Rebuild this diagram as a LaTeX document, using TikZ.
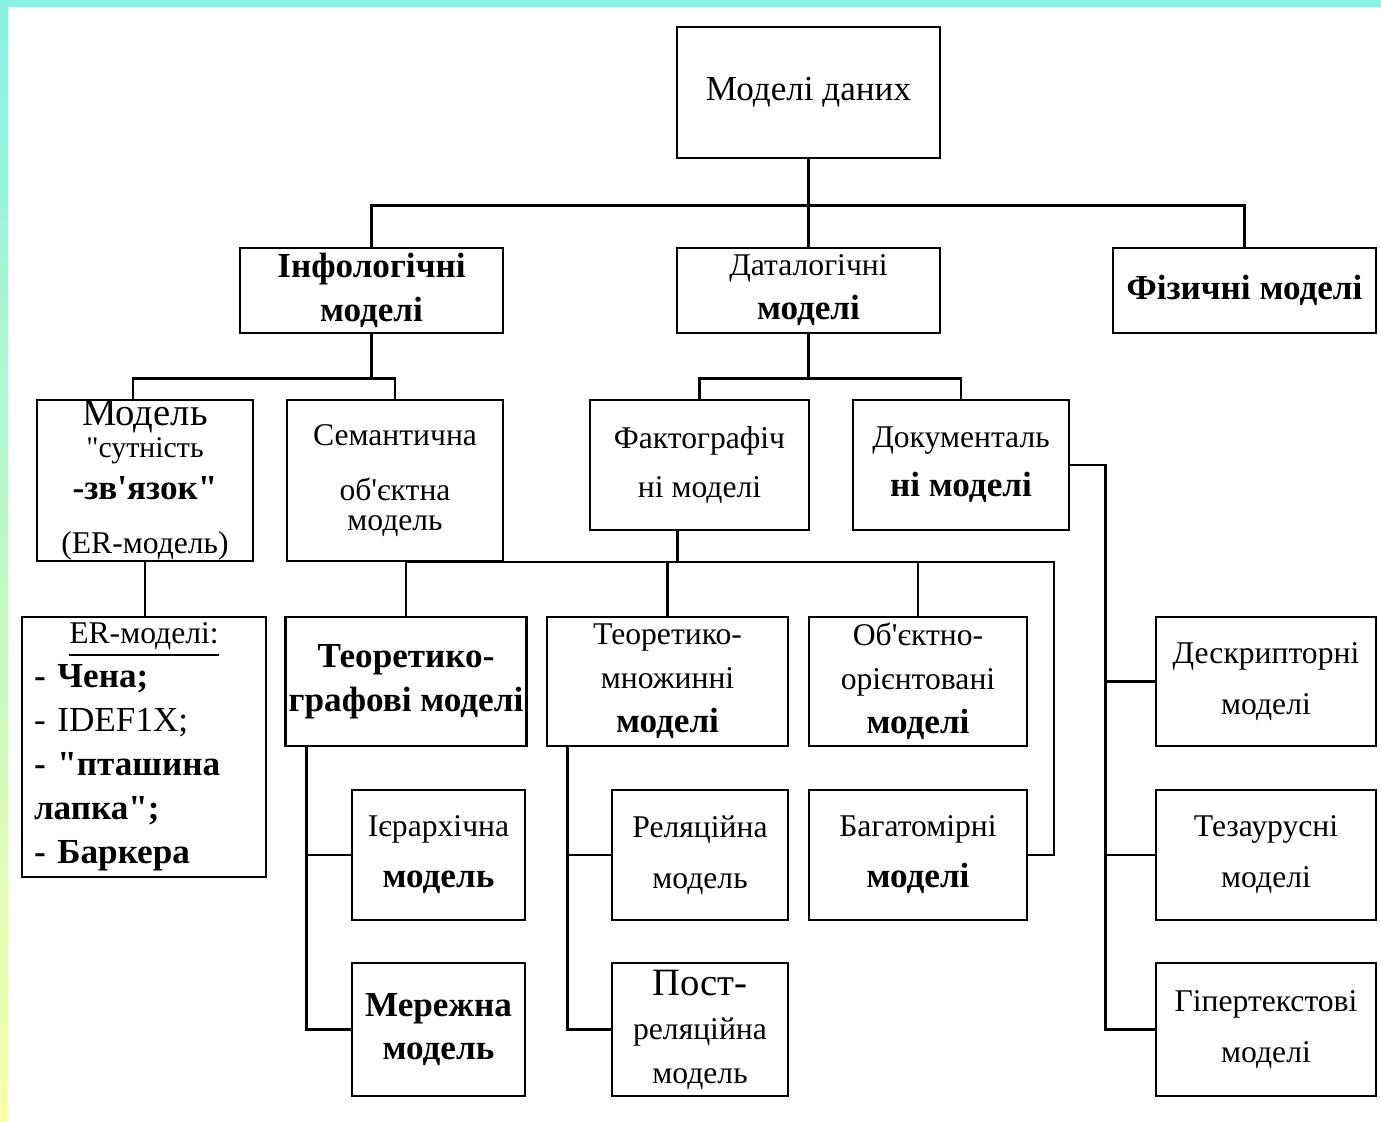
\documentclass[tikz,border=0pt]{standalone}
\usepackage{fontspec}
\setmainfont{Liberation Serif}[Ligatures=TeXOff]
\usetikzlibrary{calc}
\definecolor{bandcyan}{HTML}{88F2E3}
\definecolor{bandyellow}{HTML}{F6FFA8}
\newcommand{\thintxt}[1]{{\fontsize{9}{12.5}\selectfont #1}}
\tikzset{
  mbox/.style 2 args={draw, line width=0.8pt, minimum width=#1*0.1mm, minimum height=#2*0.1mm,
    inner sep=1pt, align=center, font=\fontsize{10}{12.5}\selectfont},
  link/.style={line width=0.8pt}
}

\begin{document}
\begin{tikzpicture}[x=0.1mm, y=-0.1mm]
        \useasboundingbox (0,0) rectangle (1381,1121);
        \fill[white] (0,0) rectangle (1381,1121);
        \fill[bandcyan] (0,0) rectangle (1381,7);
        \shade[top color=bandcyan, bottom color=bandyellow] (0,0) rectangle (8,1121);

        % top levels
        \node[mbox={263}{131}] (root) at (808.5,92.5) {Моделі даних};
        \node[mbox={263}{85}] (info) at (371.5,290.5) {\textbf{Інфологічні}\\\textbf{моделі}};
        \node[mbox={263}{85}] (datal) at (808.5,290.5) {\thintxt{Даталогічні}\\\textbf{моделі}};
        \node[mbox={263}{85}] (phys) at (1244.5,290.5) {\textbf{Фізичні моделі}};

        \node[mbox={216}{161}, inner sep=0pt] (er) at (145,480.5) {{\fontsize{11}{11}\selectfont Модель}\\[-3.6pt]{\fontsize{8.5}{10}\selectfont "сутність}\\[-0.5pt]\textbf{-зв'язок"}\\[3pt]\thintxt{(ER-модель)}};
        \node[mbox={216}{161}] (sem) at (395,480.5) {\thintxt{Семантична}\\[3pt]\thintxt{об'єктна}\\[-4pt]\thintxt{модель}};
        \node[mbox={219}{130}] (fact) at (699.5,465) {\thintxt{Фактографіч}\\[1.5pt]\thintxt{ні моделі}};
        \node[mbox={216}{130}] (doc) at (961,465) {\thintxt{Документаль}\\[1.5pt]\textbf{ні моделі}};

        \node[mbox={244}{260}, text width=22mm, align=left] (erlist) at (144,747) {\makebox[22mm]{\thintxt{\underline{ER-моделі:}}}\\\textbf{- Чена;}\\- IDEF1X;\\\textbf{- "пташина}\\\textbf{лапка";}\\\textbf{- Баркера}};
        \node[mbox={238}{129}] (tgraph) at (406,681.5) {\textbf{Теоретико-}\\\textbf{графові моделі}};
        \node[mbox={241}{129}] (tset) at (667.5,681.5) {\thintxt{Теоретико-}\\\thintxt{множинні}\\\textbf{моделі}};
        \node[mbox={218}{129}] (oo) at (918,681.5) {\thintxt{Об'єктно-}\\\thintxt{орієнтовані}\\\textbf{моделі}};
        \node[mbox={220}{129}] (desc) at (1266,681.5) {\thintxt{Дескрипторні}\\[2pt]\thintxt{моделі}};

        \node[mbox={173}{130}] (hier) at (438.5,855) {\thintxt{Ієрархічна}\\[2pt]\textbf{модель}};
        \node[mbox={176}{130}] (rel) at (700,855) {\thintxt{Реляційна}\\[2pt]\thintxt{модель}};
        \node[mbox={218}{130}] (multi) at (918,855) {\thintxt{Багатомірні}\\[2pt]\textbf{моделі}};
        \node[mbox={220}{130}] (thes) at (1266,855) {\thintxt{Тезаурусні}\\[2pt]\thintxt{моделі}};

        \node[mbox={173}{133}] (net) at (438.5,1029.5) {\textbf{Мережна}\\\textbf{модель}};
        \node[mbox={176}{133}] (post) at (700,1029.5) {{\fontsize{11}{12}\selectfont Пост-}\\\thintxt{реляційна}\\\thintxt{модель}};
        \node[mbox={220}{133}] (hyper) at (1266,1029.5) {\thintxt{Гіпертекстові}\\[2pt]\thintxt{моделі}};

        % connectors
        \draw[link] (root.south) -- ++(0,46) coordinate (b0);
        \draw[link] (b0) -| (info.north);
        \draw[link] (b0) -| (phys.north);
        \draw[link] (b0) -- (datal.north);

        \draw[link] (info.south) -- ++(0,44) coordinate (b1);
        \draw[link] (b1) -| ([xshift=-1.2mm]er.north);
        \draw[link] (b1) -| (sem.north);
        \draw[link] (datal.south) -- ++(0,44) coordinate (b2);
        \draw[link] (b2) -| (fact.north);
        \draw[link] (b2) -| (doc.north);
        \draw[link] (er.south) -- (er.south |- erlist.north);

        \coordinate (b3) at (1054,562);
        \draw[link] ([xshift=-2.2mm]fact.south) -- ++(0,32);
        \draw[link] (tgraph.north) |- (b3) |- (multi.east);
        \draw[link] (tset.north) -- (tset.north |- b3);
        \draw[link] (oo.north) -- (oo.north |- b3);

        \coordinate (tg) at ([xshift=2.3mm]tgraph.south west);
        \draw[link] (tg) |- (net.west);
        \draw[link] (hier.west) -- (hier.west -| tg);
        \coordinate (ts) at ([xshift=2.2mm]tset.south west);
        \draw[link] (ts) |- (post.west);
        \draw[link] (rel.west) -- (rel.west -| ts);

        \draw[link] (doc.east) -- ++(35,0) coordinate (dc) |- (hyper.west);
        \draw[link] (desc.west) -- (desc.west -| dc);
        \draw[link] (thes.west) -- (thes.west -| dc);
\end{tikzpicture}
\end{document}
